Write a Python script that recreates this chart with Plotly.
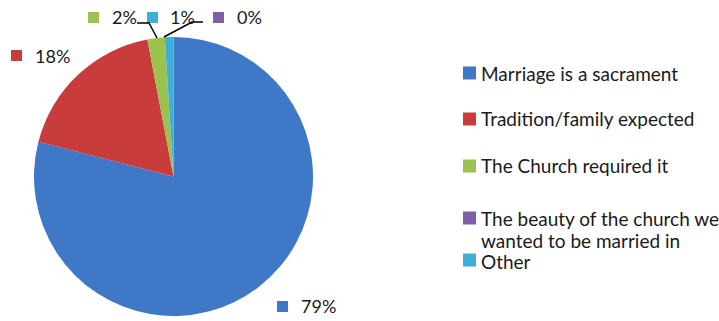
import plotly.graph_objects as go

# Reasons for a church wedding (share of respondents, %)
categories = [
    "Marriage is a sacrament",
    "Tradition/family expected",
    "The Church required it",
    "The beauty of the church we<br>wanted to be married in",
    "Other",
]
shares = [79, 18, 2, 0, 1]
colors = ["#3F78C6", "#C83C3C", "#9BC24F", "#7F5FA8", "#3DAFD6"]

W, H = 719, 321
FONT = "Lato"


def px(x):
    return x / W


def py(y):
    return 1 - y / H


fig = go.Figure(
    go.Pie(
        labels=categories,
        values=shares,
        sort=False,
        direction="clockwise",
        rotation=0,
        marker=dict(colors=colors, line=dict(width=0)),
        textinfo="none",
        hoverinfo="label+percent",
        showlegend=False,
        domain=dict(x=[px(34), px(313)], y=[py(316), py(37)]),
    )
)

shapes = []
annotations = []

# percentage callouts: (square left, square top, text left, text centre y)
callout_pos = [
    (277, 301, 299, 306),  # 79%
    (11, 50, 33, 56),      # 18%
    (88, 12, 110, 17),     # 2%
    (213, 12, 235, 17),    # 0%
    (147, 12, 168, 17),    # 1%
]
for i, (sx, sy, tx, ty) in enumerate(callout_pos):
    shapes.append(dict(type="rect", xref="paper", yref="paper",
                       x0=px(sx), x1=px(sx + 11), y0=py(sy + 11), y1=py(sy),
                       fillcolor=colors[i], line=dict(width=0)))
    annotations.append(dict(text=f"{shares[i]}%", x=px(tx), y=py(ty),
                            xref="paper", yref="paper", xanchor="left",
                            yanchor="middle", showarrow=False,
                            font=dict(family=FONT, size=18, color="#1a1a1a")))

# leader lines for the two thin slices
leaders = [
    [(137, 23), (149, 23), (157, 38)],
    [(203, 22), (192, 22), (164, 37)],
]
for pts in leaders:
    path = "M " + " L ".join(f"{px(x)},{py(y)}" for x, y in pts)
    shapes.append(dict(type="path", xref="paper", yref="paper", path=path,
                       line=dict(color="#000", width=1.5)))

# legend entries: square centre y, then the centre y of each text line
legend_pos = [(73, [73]), (119, [119]), (166, [166]), (218, [218, 240]), (260, [261])]
for i, (sy, line_ys) in enumerate(legend_pos):
    shapes.append(dict(type="rect", xref="paper", yref="paper",
                       x0=px(463), x1=px(476), y0=py(sy + 6.5), y1=py(sy - 6.5),
                       fillcolor=colors[i], line=dict(width=0)))
    for line_text, ty in zip(categories[i].split("<br>"), line_ys):
        annotations.append(dict(text=line_text, x=px(479), y=py(ty),
                                xref="paper", yref="paper", xanchor="left",
                                yanchor="middle", align="left", showarrow=False,
                                font=dict(family=FONT, size=19, color="#1a1a1a")))

fig.update_layout(
    width=W, height=H,
    margin=dict(l=0, r=0, t=0, b=0),
    paper_bgcolor="white",
    plot_bgcolor="white",
    shapes=shapes,
    annotations=annotations,
)

fig.write_html("out.html")
